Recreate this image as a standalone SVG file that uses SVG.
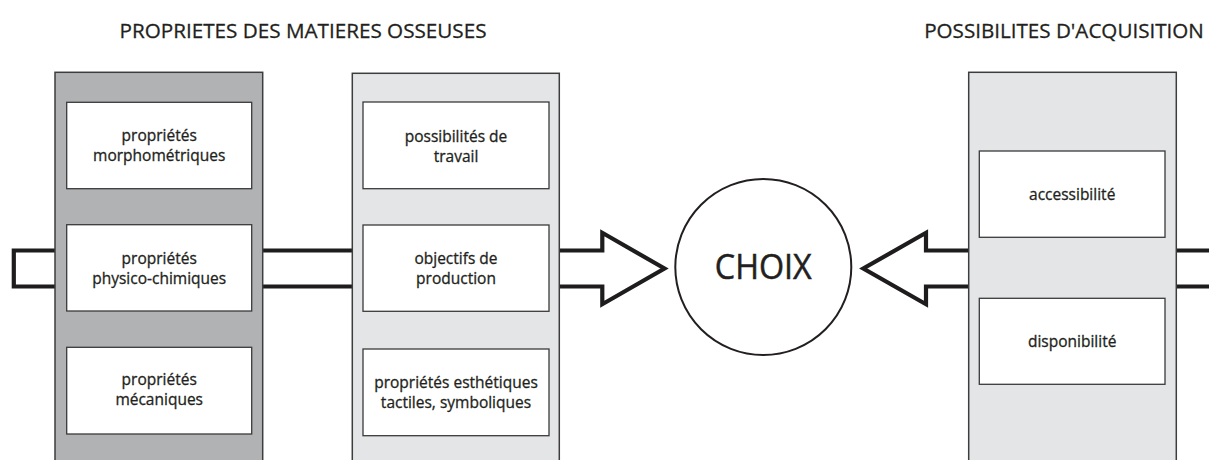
<svg xmlns="http://www.w3.org/2000/svg" width="1209" height="460" viewBox="0 0 1209 460">
<style>
text{font-family:"Open Sans","Noto Sans","Liberation Sans",sans-serif;fill:#231f20;stroke:#231f20;stroke-width:0.3;text-anchor:middle}
.title{font-size:20.6px}
.lbl{font-size:15.5px}
.choix{font-size:34px;stroke-width:0.5}
.panel-dark{fill:#b1b2b4;stroke:#3d3d3d;stroke-width:1.5}
.panel-light{fill:#e4e5e7;stroke:#3d3d3d;stroke-width:1.5}
.box{fill:#ffffff;stroke:#3a3a3a;stroke-width:1.3}
.arrow{fill:#ffffff;stroke:#1e1c1d;stroke-width:4.2;stroke-linejoin:miter;stroke-miterlimit:10}
</style>
<rect width="1209" height="460" fill="#ffffff"/>
<g id="titles">
<text class="title" x="303" y="38.3" textLength="367" lengthAdjust="spacingAndGlyphs">PROPRIETES DES MATIERES OSSEUSES</text>
<text class="title" x="1064" y="38.3">POSSIBILITES D'ACQUISITION</text>
</g>
<g id="connectors">
<path class="arrow" d="M13.8,250.5 H602.3 V232.8 L664.5,268.5 L602.3,304.2 V286.5 H13.8 Z"/>
<path class="arrow" d="M1215,250.5 H926 V232.8 L863.3,268.5 L926,304.2 V286.5 H1215"/>
</g>
<g id="panel-proprietes">
<rect class="panel-dark" x="55" y="72.3" width="207.7" height="400"/>
</g>
<g id="panel-travail">
<rect class="panel-light" x="352.3" y="73.3" width="207" height="400"/>
</g>
<g id="panel-acquisition">
<rect class="panel-light" x="968.7" y="72.3" width="207.6" height="400"/>
</g>
<g id="node-morphometriques">
<rect class="box" x="66.7" y="102.3" width="185" height="86.4"/>
<text class="lbl" x="159.2" y="141">propriétés</text>
<text class="lbl" x="159.2" y="161">morphométriques</text>
</g>
<g id="node-physico">
<rect class="box" x="66.7" y="224.7" width="185" height="86.3"/>
<text class="lbl" x="159.2" y="264">propriétés</text>
<text class="lbl" x="159.2" y="284.3">physico-chimiques</text>
</g>
<g id="node-mecaniques">
<rect class="box" x="66.7" y="347.3" width="185" height="86.7"/>
<text class="lbl" x="159.2" y="385">propriétés</text>
<text class="lbl" x="159.2" y="405">mécaniques</text>
</g>
<g id="node-travail">
<rect class="box" x="363" y="102" width="186" height="86.7"/>
<text class="lbl" x="456" y="141.7">possibilités de</text>
<text class="lbl" x="456" y="161.7">travail</text>
</g>
<g id="node-production">
<rect class="box" x="363" y="225" width="186" height="86.3"/>
<text class="lbl" x="456" y="264">objectifs de</text>
<text class="lbl" x="456" y="284.3">production</text>
</g>
<g id="node-esthetiques">
<rect class="box" x="363" y="349" width="186" height="86.7"/>
<text class="lbl" x="456" y="387.7">propriétés esthétiques</text>
<text class="lbl" x="456" y="407.7">tactiles, symboliques</text>
</g>
<g id="node-accessibilite">
<rect class="box" x="979.3" y="151" width="185.7" height="86.3"/>
<text class="lbl" x="1072.2" y="200">accessibilité</text>
</g>
<g id="node-disponibilite">
<rect class="box" x="979.3" y="298.3" width="185.7" height="86"/>
<text class="lbl" x="1072.2" y="347.3">disponibilité</text>
</g>
<g id="node-choix">
<circle cx="763.3" cy="267" r="88" fill="#ffffff" stroke="#231f20" stroke-width="2"/>
<text class="choix" x="763.3" y="278.6" textLength="97" lengthAdjust="spacingAndGlyphs">CHOIX</text>
</g>
</svg>
